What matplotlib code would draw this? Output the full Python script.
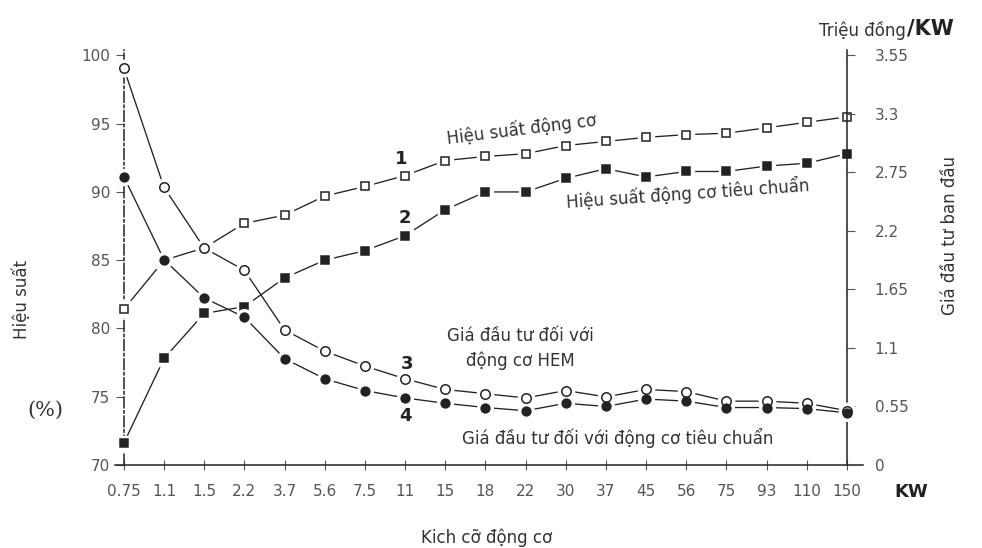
import matplotlib
matplotlib.use("Agg")
import matplotlib.pyplot as plt

# ---------- Data ----------
SIZES = ["0.75", "1.1", "1.5", "2.2", "3.7", "5.6", "7.5", "11", "15", "18",
         "22", "30", "37", "45", "56", "75", "93", "110", "150"]
EFF_HEM = [81.4, 85.0, 85.9, 87.7, 88.3, 89.7, 90.4, 91.2, 92.3, 92.6,
           92.8, 93.4, 93.7, 94.0, 94.2, 94.3, 94.7, 95.1, 95.5]
EFF_STD = [71.6, 77.8, 81.1, 81.6, 83.7, 85.0, 85.7, 86.8, 88.7, 90.0,
           90.0, 91.0, 91.7, 91.1, 91.5, 91.5, 91.9, 92.1, 92.8]
COST_HEM = [3.73, 2.61, 2.04, 1.83, 1.27, 1.07, 0.93, 0.81, 0.71, 0.67,
            0.63, 0.70, 0.64, 0.71, 0.69, 0.60, 0.60, 0.58, 0.51]
COST_STD = [2.71, 1.93, 1.57, 1.39, 1.00, 0.81, 0.70, 0.63, 0.58, 0.54,
            0.51, 0.58, 0.55, 0.62, 0.60, 0.54, 0.54, 0.53, 0.49]
LEFT_TICKS = [70, 75, 80, 85, 90, 95, 100]
RIGHT_TICKS = [0, 0.55, 1.1, 1.65, 2.2, 2.75, 3.3, 3.85]
RIGHT_LABELS = ["0", "0.55", "1.1", "1.65", "2.2", "2.75", "3.3", "3.55"]

# ---------- Style ----------
INK = "#222222"
TICK_C = "#555555"
plt.rcParams.update({
    "font.family": ["DejaVu Sans"],
    "font.size": 11,
})

fig = plt.figure(figsize=(9.82, 5.48), dpi=100)
ax = fig.add_axes([0.1171, 0.1515, 0.7618, 0.7573])
ax2 = ax.twinx()

idx = list(range(len(SIZES)))
ax.set_xlim(-0.22, 18.4)
ax.set_ylim(70, 100.4)
ax2.set_ylim(0, 3.85 * 30.4 / 30)


def draw(a, y, marker, face, ms):
    a.plot(idx, y, color=INK, lw=0.95, zorder=2)
    # white halo gives the gap between segment and marker
    a.plot(idx, y, linestyle="", marker=marker, ms=ms + 5, mfc="white",
           mec="white", zorder=3)
    a.plot(idx, y, linestyle="", marker=marker, ms=ms, mfc=face,
           mec=INK, mew=1.1, zorder=4)


draw(ax, EFF_HEM, "s", "white", 6.2)
draw(ax, EFF_STD, "s", INK, 5.8)
draw(ax2, COST_HEM, "o", "white", 6.8)
draw(ax2, COST_STD, "o", INK, 6.3)

# ---------- Axes ----------
for a in (ax, ax2):
    a.spines["top"].set_visible(False)
ax.spines["right"].set_visible(False)
ax2.spines["left"].set_visible(False)
ax2.spines["bottom"].set_visible(False)
ax.spines["left"].set_position(("data", 0))
ax2.spines["right"].set_position(("data", 18))
ax.spines["left"].set_linestyle((0, (7, 2, 1.5, 2)))
for s in (ax.spines["left"], ax.spines["bottom"], ax2.spines["right"]):
    s.set_color(INK)
    s.set_linewidth(1.1)

ax.set_xticks(idx)
ax.set_xticklabels(SIZES)
ax.set_yticks(LEFT_TICKS)
ax.set_yticklabels([str(v) for v in LEFT_TICKS])
ax2.set_yticks(RIGHT_TICKS)
ax2.set_yticklabels(RIGHT_LABELS)
ax.tick_params(axis="x", direction="inout", length=7, pad=10,
               colors=TICK_C, labelsize=11)
ax.tick_params(axis="y", direction="out", length=6, pad=4,
               colors=TICK_C, labelsize=11)
ax2.tick_params(axis="y", direction="out", length=6, pad=14,
                colors=TICK_C, labelsize=11)
for a in (ax, ax2):
    for t in a.get_xticklines() + a.get_yticklines():
        t.set_color(INK)

# ---------- Annotations ----------
TXT = "#333333"
ax.text(9.9, 94.6, "Hiệu suất động cơ", rotation=7, ha="center",
        va="center", fontsize=12, color=TXT, rotation_mode="anchor")
ax.text(14.05, 89.9, "Hiệu suất động cơ tiêu chuẩn", rotation=4,
        ha="center", va="center", fontsize=12, color=TXT,
        rotation_mode="anchor")
ax.text(9.88, 78.5, "Giá đầu tư đối với\nđộng cơ HEM", ha="center",
        va="center", fontsize=12, color=TXT, linespacing=1.45)
ax.text(12.3, 72.0, "Giá đầu tư đối với động cơ tiêu chuẩn", ha="center",
        va="center", fontsize=12, color=TXT)
for lbl, xi, yv in [("1", 6.9, 92.4), ("2", 7.0, 88.1),
                    ("3", 7.04, 77.4), ("4", 7.0, 73.6)]:
    ax.text(xi, yv, lbl, ha="center", va="center", fontsize=13,
            fontweight="bold", color=INK)

fig.text(0.022, 0.453, "Hiệu suất", rotation=90, ha="center", va="center",
         fontsize=12, color=TXT)
fig.text(0.046, 0.252, "(%)", ha="center", va="center", fontsize=15,
         color=TXT, family=["DejaVu Serif"])
fig.text(0.967, 0.571, "Giá đầu tư ban đầu", rotation=90, ha="center",
         va="center", fontsize=12, color=TXT)
fig.text(0.9226, 0.945, "Triệu đồng", ha="right", va="center",
         fontsize=12, color=TXT)
fig.text(0.9236, 0.948, "/KW", ha="left", va="center", fontsize=15,
         fontweight="bold", color=INK)
fig.text(0.911, 0.102, "KW", ha="left", va="center", fontsize=13,
         fontweight="bold", color=INK)
fig.text(0.496, 0.018, "Kich cỡ động cơ", ha="center", va="center",
         fontsize=12, color=TXT)

fig.savefig("out.png", dpi=100)
